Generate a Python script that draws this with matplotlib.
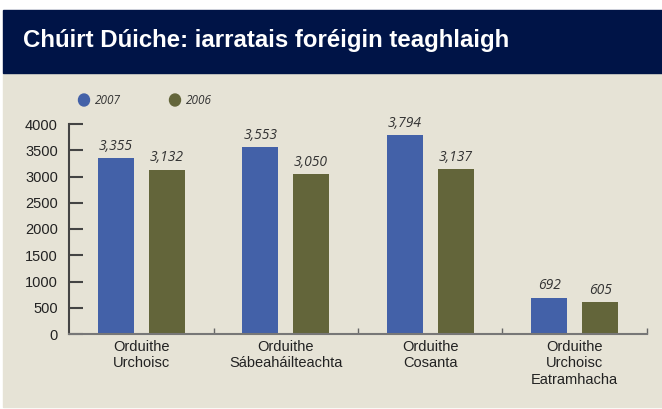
import numpy as np
import matplotlib.pyplot as plt
import matplotlib.patches as pc

# Data
categories = ['Orduithe\nUrchoisc', 'Orduithe\nSábeaháilteachta',
              'Orduithe\nCosanta', 'Orduithe\nUrchoisc\nEatramhacha']
values_2007 = [3355, 3553, 3794, 692]
values_2006 = [3132, 3050, 3137, 605]
series_names = ['2007', '2006']
yticks = [0, 500, 1000, 1500, 2000, 2500, 3000, 3500, 4000]

blue = '#4361a8'
olive = '#63653a'
beige = '#e6e3d6'
navy = '#001447'

W, H = 662, 409
fig = plt.figure(figsize=(W / 100, H / 100), dpi=100)
fig.patch.set_facecolor('white')

# background panels (pixel coords -> figure fraction)
fig.add_artist(pc.Rectangle((3 / W, 1 - 407 / H), 659 / W, 334 / H,
                            transform=fig.transFigure, color=beige, zorder=0))
fig.add_artist(pc.Rectangle((3 / W, 1 - 73 / H), 659 / W, 63 / H,
                            transform=fig.transFigure, color=navy, zorder=0))
fig.text(23 / W, 1 - 47 / H, 'Chúirt Dúiche: iarratais foréigin teaghlaigh',
         color='white', fontsize=17.3, fontweight='bold',
         family='Liberation Sans', va='baseline', ha='left')

# legend
for i, (name, col) in enumerate(zip(series_names, [blue, olive])):
    x0 = 84 + i * 91
    fig.add_artist(pc.Ellipse((x0 / W, 1 - 100 / H), 11 / W, 12 / H,
                              transform=fig.transFigure, color=col))
    fig.text((x0 + 11) / W, 1 - 100 / H, name, fontsize=8.5, style='italic',
             color='#333333', va='center', ha='left', family='Open Sans')

# --------------------------------------------------------------------------------------------------
ax = fig.add_axes([69 / W, 75 / H, 578 / W, 210 / H])
ax.set_facecolor('none')

x = np.arange(len(categories))
off = 0.176
w = 0.25
b1 = ax.bar(x - off, values_2007, w, color=blue, zorder=2)
b2 = ax.bar(x + off, values_2006, w, color=olive, zorder=2)

for bars, vals in [(b1, values_2007), (b2, values_2006)]:
    for bar, v in zip(bars, vals):
        ax.text(bar.get_x() + bar.get_width() / 2, v + 80, f'{v:,}',
                ha='center', va='bottom', fontsize=10, style='italic',
                color='#333333', family='Open Sans')

ax.set_xlim(-0.5, len(categories) - 0.5)
ax.set_ylim(0, 4000)
ax.set_yticks(yticks)
ax.set_yticklabels([str(t) for t in yticks], fontsize=10.5, color='#222222',
                   family='Liberation Sans')

ax.set_xticks(x)
ax.set_xticklabels(categories, fontsize=10.5, color='#222222',
                   family='Liberation Sans', linespacing=1.25)
ax.tick_params(axis='x', length=0, pad=4)
ax.set_xticks(np.arange(len(categories)) + 0.5, minor=True)
ax.tick_params(axis='x', which='minor', direction='in', length=4,
               color='#666666', width=1)
ax.tick_params(axis='y', direction='in', length=10, width=1.5,
               color='#444444', pad=8)

for s in ['top', 'right']:
    ax.spines[s].set_visible(False)
ax.spines['left'].set_color('#444444')
ax.spines['left'].set_linewidth(1.5)
ax.spines['bottom'].set_color('#777777')
ax.spines['bottom'].set_linewidth(1.5)

fig.savefig('out.png', dpi=100, facecolor='white')
